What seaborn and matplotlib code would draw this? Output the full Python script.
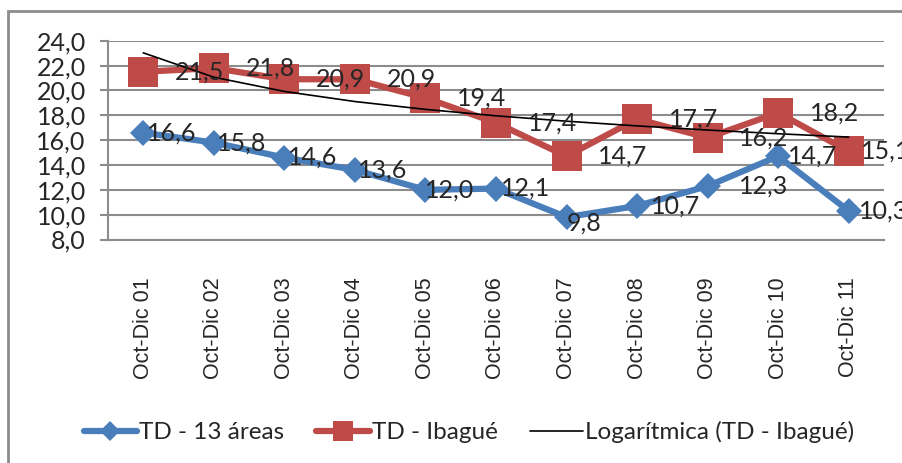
import numpy as np
import pandas as pd
import matplotlib
matplotlib.use("Agg")
import matplotlib.pyplot as plt
import seaborn as sns
from matplotlib.patches import Rectangle
from matplotlib.lines import Line2D

periodos = ["Oct-Dic 01", "Oct-Dic 02", "Oct-Dic 03", "Oct-Dic 04", "Oct-Dic 05", "Oct-Dic 06",
            "Oct-Dic 07", "Oct-Dic 08", "Oct-Dic 09", "Oct-Dic 10", "Oct-Dic 11"]
td_13_areas = [16.6, 15.8, 14.6, 13.6, 12.0, 12.1, 9.8, 10.7, 12.3, 14.7, 10.3]
td_ibague = [21.5, 21.8, 20.9, 20.9, 19.4, 17.4, 14.7, 17.7, 16.2, 18.2, 15.1]

# desplazamiento horizontal de las etiquetas (en unidades de categoria)
dx_azul = [0.05, 0.05, 0.05, 0.05, 0.0, 0.07, 0.0, 0.2, 0.45, 0.14, 0.14]
dx_rojo = [0.45] * 10 + [0.17]

azul = "#4a7ebb"
rojo = "#be4b48"
gris = "#8c8c8c"

sns.set_style("white")
plt.rcParams["font.family"] = ["Lato", "DejaVu Sans"]

df = pd.DataFrame({"pos": np.arange(len(periodos)), "periodo": periodos,
                   "areas": td_13_areas, "ibague": td_ibague})

# tendencia logaritmica (como la de Excel) sobre la serie de Ibague
xl = np.arange(1, len(periodos) + 1)
a, b = np.polyfit(np.log(xl), df["ibague"], 1)
df["tendencia"] = a * np.log(xl) + b

fig = plt.figure(figsize=(9.02, 4.63), dpi=100)
ax = fig.add_axes([0.1197, 0.4827, 0.980 - 0.1197, 0.912 - 0.4827])

sns.lineplot(data=df, x="pos", y="areas", ax=ax, color=azul, lw=4.5, marker="D",
             markersize=13, markeredgewidth=0, zorder=3)
sns.lineplot(data=df, x="pos", y="ibague", ax=ax, color=rojo, lw=4.5, marker="s",
             markersize=21, markeredgewidth=0, zorder=3)
sns.lineplot(data=df, x="pos", y="tendencia", ax=ax, color="black", lw=1.2, zorder=4)

for i, (v1, v2) in enumerate(zip(td_13_areas, td_ibague)):
    dy = -0.5 if i == 6 else 0
    ax.text(i + dx_azul[i], v1 + dy, f"{v1:.1f}".replace(".", ","), fontsize=18,
            va="center", ha="left", zorder=5)
    ax.text(i + dx_rojo[i], v2, f"{v2:.1f}".replace(".", ","), fontsize=18,
            va="center", ha="left", zorder=5)

ax.set_xlim(-0.5, len(periodos) - 0.5)
ax.set_ylim(8, 24)
ax.set_yticks(np.arange(8, 24.1, 2))
ax.set_yticklabels([f"{v:.1f}".replace(".", ",") for v in np.arange(8, 24.1, 2)], fontsize=18)
ax.yaxis.grid(True, color=gris, lw=1.5)
ax.set_xticks(df["pos"])
ax.set_xticklabels(periodos, rotation=90, fontsize=15.5, family="Liberation Sans")
ax.set_xticks(np.arange(-0.5, len(periodos)), minor=True)
ax.tick_params(axis="x", which="major", length=0, pad=27)
ax.tick_params(axis="x", which="minor", length=6, width=1.5, color=gris, direction="out")
ax.tick_params(axis="y", length=6, width=1.5, color=gris, direction="out", left=True, pad=10)
ax.set_xlabel("")
ax.set_ylabel("")
for s in ["top", "right"]:
    ax.spines[s].set_visible(False)
for s in ["left", "bottom"]:
    ax.spines[s].set_color(gris)
    ax.spines[s].set_linewidth(1.5)

handles = [Line2D([], [], color=azul, lw=4.5, marker="D", markersize=10, markeredgewidth=0),
           Line2D([], [], color=rojo, lw=4.5, marker="s", markersize=14, markeredgewidth=0),
           Line2D([], [], color="black", lw=1.2)]
fig.legend(handles, ["TD - 13 áreas", "TD - Ibagué", "Logarítmica (TD - Ibagué)"],
           loc="center", bbox_to_anchor=(0.52, 1 - 432 / 463), ncol=3, frameon=False,
           fontsize=17.5, handlelength=2.2, handletextpad=0.1, columnspacing=1.3)

fig.patches.append(Rectangle((8 / 902, -0.1), 1.2, 1 - 11 / 463 + 0.1, transform=fig.transFigure,
                             fill=False, edgecolor=gris, lw=2))

fig.savefig("out.png", dpi=100)
